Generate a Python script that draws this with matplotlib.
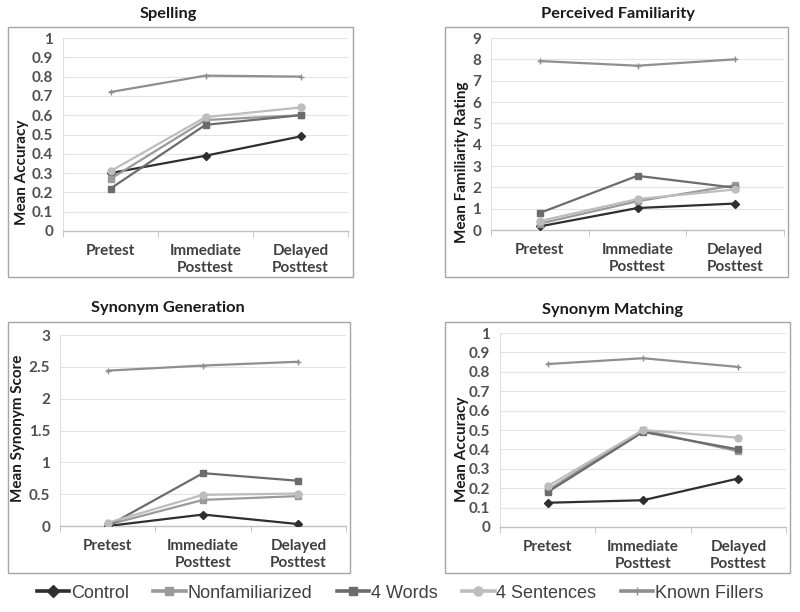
import numpy as np
import matplotlib as mpl
mpl.use("Agg")
import matplotlib.pyplot as plt
from matplotlib.patches import Rectangle
from matplotlib.ticker import FixedLocator

# ─────────────────────────────────────────────────────────────────────────────
# rcParams
# ─────────────────────────────────────────────────────────────────────────────
mpl.rcParams.update({
    "font.family": ["Lato", "DejaVu Sans"],
    "font.size": 9,
    "axes.spines.top": False,
    "axes.spines.right": False,
})

# ─────────────────────────────────────────────────────────────────────────────
# Data
# ─────────────────────────────────────────────────────────────────────────────
TESTS = ["Pretest", "Immediate\nPosttest", "Delayed\nPosttest"]
GROUPS = ["Control", "Nonfamiliarized", "4 Words", "4 Sentences", "Known Fillers"]

spelling = {
    "Control":         [0.30, 0.39, 0.49],
    "Nonfamiliarized": [0.27, 0.575, 0.60],
    "4 Words":         [0.22, 0.55, 0.60],
    "4 Sentences":     [0.31, 0.59, 0.64],
    "Known Fillers":   [0.72, 0.805, 0.80],
}
familiarity = {
    "Control":         [0.17, 1.03, 1.24],
    "Nonfamiliarized": [0.30, 1.35, 2.10],
    "4 Words":         [0.80, 2.54, 1.98],
    "4 Sentences":     [0.42, 1.45, 1.90],
    "Known Fillers":   [7.92, 7.70, 8.00],
}
syn_generation = {
    "Control":         [0.00, 0.18, 0.03],
    "Nonfamiliarized": [0.02, 0.41, 0.47],
    "4 Words":         [0.00, 0.83, 0.71],
    "4 Sentences":     [0.05, 0.49, 0.51],
    "Known Fillers":   [2.44, 2.52, 2.58],
}
syn_matching = {
    "Control":         [0.125, 0.138, 0.25],
    "Nonfamiliarized": [0.19, 0.50, 0.39],
    "4 Words":         [0.18, 0.49, 0.40],
    "4 Sentences":     [0.21, 0.50, 0.46],
    "Known Fillers":   [0.84, 0.87, 0.825],
}

STYLE = {
    "Control":         dict(color="#2f2f2f", marker="D", ms=4.5),
    "Nonfamiliarized": dict(color="#9a9a9a", marker="s", ms=4),
    "4 Words":         dict(color="#6c6c6c", marker="s", ms=4),
    "4 Sentences":     dict(color="#bdbdbd", marker="o", ms=5),
    "Known Fillers":   dict(color="#8f8f8f", marker="+", ms=4),
}

W, H = 800, 612

# panel: (data, title, ylabel, ymax, ystep, axes px box, frame px box, title xy, ylabel xy)
PANELS = [
    (spelling, "Spelling", "Mean Accuracy", 1.0, 0.1,
     (63, 38, 348, 231), (8, 27, 353, 277), (168, 14), (22, 172)),
    (familiarity, "Perceived Familiarity", "Mean Familiarity Rating", 9, 1,
     (491, 38, 784, 230), (445, 27, 788, 277), (618, 14), (462, 162)),
    (syn_generation, "Synonym Generation", "Mean Synonym Score", 3, 0.5,
     (60, 335, 346, 526), (8, 322, 350, 573), (168, 308), (18, 428)),
    (syn_matching, "Synonym Matching", "Mean Accuracy", 1.0, 0.1,
     (500, 333, 786, 527), (445, 322, 790, 573), (613, 310), (462, 449)),
]

# ─────────────────────────────────────────────────────────────────────────────
# Figure
# ─────────────────────────────────────────────────────────────────────────────
fig = plt.figure(figsize=(W / 100, H / 100), dpi=100)
x = np.arange(len(TESTS))


def fx(px):
    return px / W


def fy(py):
    return 1 - py / H


for data, title, ylabel, ymax, ystep, abox, fbox, txy, lxy in PANELS:
    # chart-area frame
    l, t, r, b = fbox
    fig.patches.append(Rectangle((fx(l), fy(b)), fx(r - l), (b - t) / H,
                                 transform=fig.transFigure, fill=False,
                                 edgecolor="#a6a6a6", linewidth=1.0))
    l, t, r, b = abox
    ax = fig.add_axes([fx(l), fy(b), fx(r - l), (b - t) / H])

    for g in GROUPS:
        st = STYLE[g]
        ax.plot(x, data[g], color=st["color"], marker=st["marker"],
                markersize=st["ms"], markeredgewidth=1.0, linewidth=1.6,
                label=g, zorder=3)

    ax.set_xlim(-0.5, 2.5)
    ax.set_ylim(0, ymax)
    ax.set_yticks(np.round(np.arange(0, ymax + ystep / 2, ystep), 2))
    ax.set_yticklabels([f"{v:g}" for v in ax.get_yticks()])
    ax.set_xticks(x)
    ax.set_xticklabels(TESTS, fontweight="bold", color="#404040", fontsize=11,
                       linespacing=1.3)
    ax.xaxis.set_minor_locator(FixedLocator([-0.5, 0.5, 1.5, 2.5]))
    ax.tick_params(axis="x", which="major", length=0, pad=9.5)
    ax.tick_params(axis="x", which="minor", length=4, color="#bfbfbf")
    ax.tick_params(axis="y", length=0, pad=7, labelsize=11, labelcolor="#505050")
    for lab in ax.get_yticklabels():
        lab.set_fontweight("bold")

    ax.grid(axis="y", color="#e3e3e3", linewidth=0.8, zorder=0)
    ax.spines["left"].set_color("#e0e0e0")
    ax.spines["bottom"].set_color("#c0c0c0")
    ax.spines["bottom"].set_linewidth(1.0)

    fig.text(fx(txy[0]), fy(txy[1]), title, ha="center", va="center",
             fontsize=11.8, fontweight="bold", color="#1a1a1a")
    fig.text(fx(lxy[0]), fy(lxy[1]), ylabel, ha="center", va="center",
             rotation=90, fontsize=11, fontweight="bold", color="#1a1a1a")

# Legend
handles, labels = ax.get_legend_handles_labels()
leg = fig.legend(handles, labels, loc="center", ncol=5,
                 bbox_to_anchor=(fx(400), fy(593)), frameon=False,
                 prop={"family": ["Liberation Sans"], "size": 13},
                 handlelength=1.8, handletextpad=0.1, columnspacing=1.35,
                 labelcolor="#404040", borderaxespad=0)
for h in leg.legend_handles:
    h.set_linewidth(2.6)
    h.set_markersize(h.get_markersize() * 1.3)

fig.savefig("out.png", dpi=100)
plt.close(fig)
